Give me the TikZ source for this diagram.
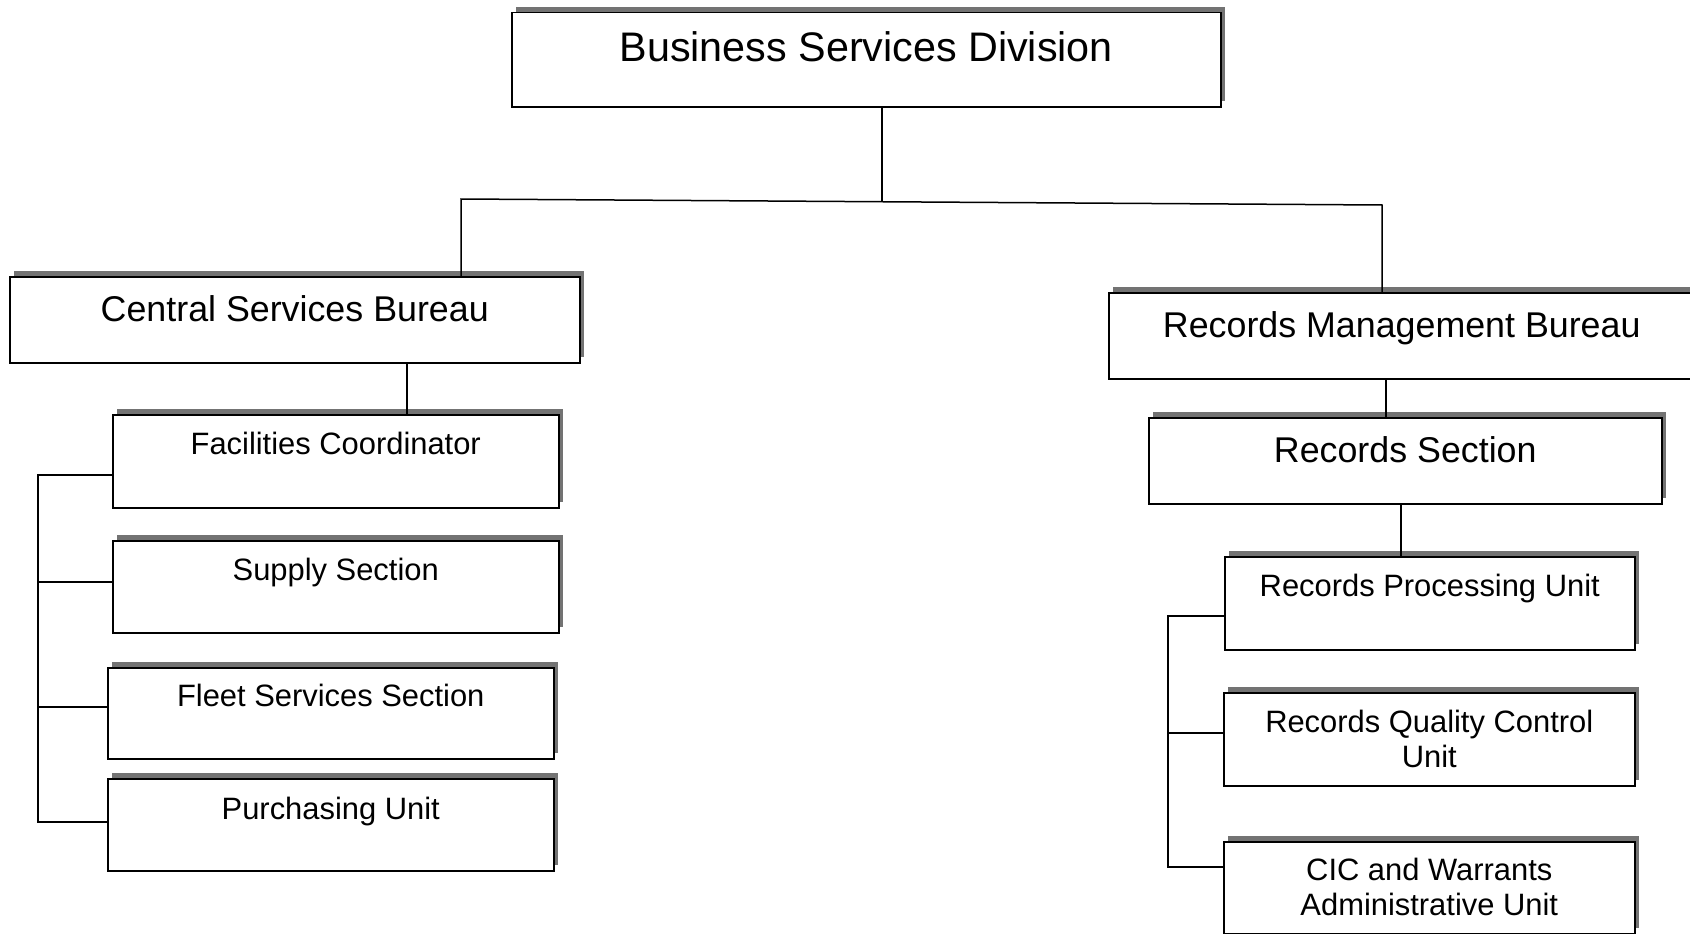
\documentclass[tikz,border=0pt]{standalone}
\usepackage{fontspec}
\setmainfont{Liberation Sans}
\usetikzlibrary{shadows}

\tikzset{
  unit/.style={draw, fill=white, line width=1.5pt, inner sep=0pt, anchor=north west,
    general shadow={shadow xshift=4.5pt, shadow yshift=5.5pt, fill=black!55}},
  bigText/.style={anchor=base, font=\fontsize{41.3}{47}\selectfont},
  midText/.style={anchor=base, font=\fontsize{35.8}{41}\selectfont},
  smallText/.style={anchor=base, align=center, font=\fontsize{30.9}{35}\selectfont},
  link/.style={line width=1.5pt}
}

\begin{document}
\begin{tikzpicture}[x=1pt,y=-1pt]
        \useasboundingbox (0,0) rectangle (1690,934);

        % boites de la division et des bureaux
        \node[unit, minimum width=709pt, minimum height=94pt] (bsd) at (511,12) {};
        \node[unit, minimum width=570pt, minimum height=86pt] (csb) at (9,276) {};
        \node[unit, minimum width=586pt, minimum height=86pt] (rmb) at (1108,292) {};

        % boites du bureau central
        \node[unit, minimum width=446pt, minimum height=93pt] (fc) at (112,414) {};
        \node[unit, minimum width=446pt, minimum height=92pt] (sup) at (112,540) {};
        \node[unit, minimum width=446pt, minimum height=91pt] (fleet) at (107,667) {};
        \node[unit, minimum width=446pt, minimum height=92pt] (pur) at (107,778) {};

        % boites du bureau des archives
        \node[unit, minimum width=513pt, minimum height=86pt] (rs) at (1148,417) {};
        \node[unit, minimum width=410pt, minimum height=93pt] (rpu) at (1224,556) {};
        \node[unit, minimum width=411pt, minimum height=93pt] (rqc) at (1223,692) {};
        \node[unit, minimum width=411pt, minimum height=92pt] (cic) at (1223,841) {};

        % textes
        \node[bigText] (bsdText) at ([yshift=-50pt]bsd.north) {Business Services Division};
        \node[midText] (csbText) at ([yshift=-45pt]csb.north) {Central Services Bureau};
        \node[midText] (rmbText) at ([yshift=-45pt]rmb.north) {Records Management Bureau};
        \node[midText] (rsText) at ([yshift=-45pt]rs.north) {Records Section};
        \node[smallText] (fcText) at ([yshift=-40pt]fc.north) {Facilities Coordinator};
        \node[smallText] (supText) at ([yshift=-40pt]sup.north) {Supply Section};
        \node[smallText] (fleetText) at ([yshift=-39pt]fleet.north) {Fleet Services Section};
        \node[smallText] (purText) at ([yshift=-41pt]pur.north) {Purchasing Unit};
        \node[smallText] (rpuText) at ([yshift=-40pt]rpu.north) {Records Processing Unit};
        \node[smallText, anchor=center] (rqcText) at ([yshift=-46.5pt]rqc.north) {Records Quality Control\\Unit};
        \node[smallText, anchor=center] (cicText) at ([yshift=-46pt]cic.north) {CIC and Warrants\\Administrative Unit};

        % points de passage des liens
        \coordinate (split) at (882,202);
        \coordinate (csbTurn) at (461,199);
        \coordinate (rmbTurn) at (1382,205);
        \coordinate (csbFoot) at (407,0);
        \coordinate (rmbFoot) at (1386,0);
        \coordinate (rsFoot) at (1401,0);
        \coordinate (fcFoot) at (38,475);
        \coordinate (supFoot) at (38,582);
        \coordinate (fleetFoot) at (38,707);
        \coordinate (purFoot) at (38,822);
        \coordinate (rpuFoot) at (1168,616);
        \coordinate (rqcFoot) at (1168,733);
        \coordinate (cicFoot) at (1168,867);

        % liens de la division vers les bureaux
        \draw[link] (bsd.south -| split) -- (split);
        \draw[link] (csb.north -| csbTurn) -- (csbTurn) -- (rmbTurn) -- (rmb.north -| rmbTurn);

        % liens verticaux
        \draw[link] (csb.south -| csbFoot) -- (fc.north -| csbFoot);
        \draw[link] (rmb.south -| rmbFoot) -- (rs.north -| rmbFoot);
        \draw[link] (rs.south -| rsFoot) -- (rpu.north -| rsFoot);

        % barre de gauche
        \draw[link] (fc.west |- fcFoot) -- (fcFoot) -- (purFoot) -- (pur.west |- purFoot);
        \draw[link] (supFoot) -- (sup.west |- supFoot);
        \draw[link] (fleetFoot) -- (fleet.west |- fleetFoot);

        % barre de droite
        \draw[link] (rpu.west |- rpuFoot) -- (rpuFoot) -- (cicFoot) -- (cic.west |- cicFoot);
        \draw[link] (rqcFoot) -- (rqc.west |- rqcFoot);
    \end{tikzpicture}
\end{document}
